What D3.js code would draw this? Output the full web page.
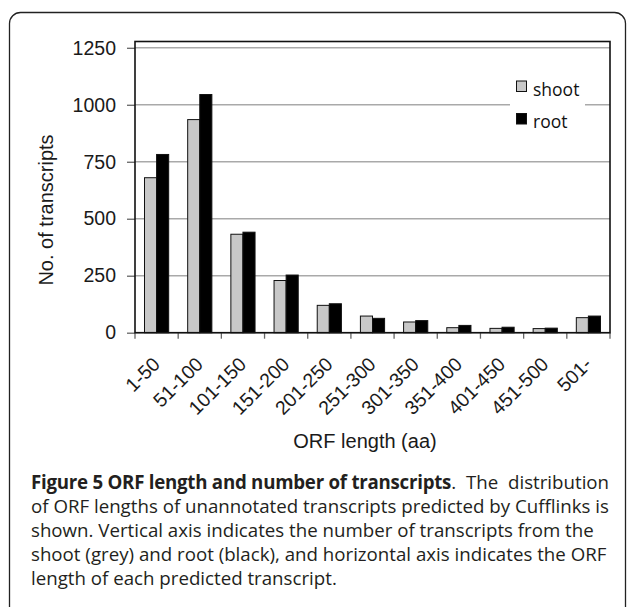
<!DOCTYPE html>
<html>
<head>
<meta charset="utf-8">
<script src="https://cdn.jsdelivr.net/npm/d3@7"></script>
<style>
  body { margin: 0; background: #fff; }
  svg { display: block; }
</style>
</head>
<body>
<div class="main-container"></div>
<script>
const categories = ["1-50", "51-100", "101-150", "151-200", "201-250", "251-300",
  "301-350", "351-400", "401-450", "451-500", "501-"];
const shoot = [680, 935, 432, 229, 120, 73, 47, 22, 19, 18, 66];
const root = [782, 1045, 441, 253, 127, 63, 53, 32, 24, 20, 73];
const yTicks = [0, 250, 500, 750, 1000, 1250];
const seriesNames = ["shoot", "root"];
const seriesColors = {shoot: "#c8c8c8", root: "#000"};

const captionLines = [
  [{t: "Figure 5 ORF length and number of transcripts", b: true}, {t: ". The distribution"}],
  [{t: "of ORF lengths of unannotated transcripts predicted by Cufflinks is"}],
  [{t: "shown. Vertical axis indicates the number of transcripts from the"}],
  [{t: "shoot (grey) and root (black), and horizontal axis indicates the ORF"}],
  [{t: "length of each predicted transcript."}]
];

const W = 627, H = 607;
const plot = {left: 135, right: 610, top: 41.5, bottom: 332.7};

const svg = d3.select(".main-container")
  .append("svg")
  .attr("width", W)
  .attr("height", H);

// outer rounded frame of the figure
svg.append("rect")
  .attr("x", 9.5).attr("y", 12.5)
  .attr("width", 616).attr("height", 700)
  .attr("rx", 11)
  .attr("fill", "#fff")
  .attr("stroke", "#222")
  .attr("stroke-width", 1.3);

const data = categories.map((c, i) => ({cat: c, shoot: shoot[i], root: root[i]}));

let x = d3.scaleBand()
  .domain(categories)
  .range([plot.left, plot.right])
  .paddingInner(0.44)
  .paddingOuter(0.22);

let xs = d3.scaleBand()
  .domain(seriesNames)
  .range([0, x.bandwidth()]);

let y = d3.scaleLinear()
  .domain([0, 1250])
  .range([plot.bottom, 47.8]);

// gridlines
svg.append("g")
  .selectAll("line")
  .data(yTicks)
  .join("line")
  .attr("x1", plot.left).attr("x2", plot.right)
  .attr("y1", d => y(d)).attr("y2", d => y(d))
  .attr("stroke", "#a9a9a9")
  .attr("stroke-width", 1.5);

// y axis ticks + labels
const yAxis = svg.append("g")
  .attr("transform", "translate(" + plot.left + ",0)")
  .call(d3.axisLeft(y).tickValues(yTicks).tickFormat(d3.format("d")).tickSize(8).tickPadding(11));
yAxis.select(".domain").remove();
yAxis.selectAll(".tick line").attr("stroke", "#666").attr("stroke-width", 1.3);
yAxis.selectAll("text")
  .attr("font-family", "Liberation Sans, Arial, sans-serif")
  .attr("font-size", 19.5)
  .attr("fill", "#1a1a1a");

// x ticks at category boundaries
const step = x.step();
svg.append("g")
  .selectAll("line")
  .data(d3.range(categories.length + 1))
  .join("line")
  .attr("x1", i => plot.left + i * step)
  .attr("x2", i => plot.left + i * step)
  .attr("y1", plot.bottom).attr("y2", plot.bottom + 6)
  .attr("stroke", "#666")
  .attr("stroke-width", 1.3);

// x labels, rotated
svg.append("g")
  .selectAll("text")
  .data(categories)
  .join("text")
  .attr("transform", d => "translate(" + (x(d) + x.bandwidth() / 2 + 4.5) + "," + 365.5 + ")rotate(-45)")
  .attr("text-anchor", "end")
  .attr("font-family", "Liberation Sans, Arial, sans-serif")
  .attr("font-size", 19.5)
  .attr("fill", "#1a1a1a")
  .text(d => d);

// bars
svg.append("g")
  .selectAll("g")
  .data(data)
  .join("g")
  .attr("transform", d => "translate(" + x(d.cat) + ",0)")
  .selectAll("rect")
  .data(d => seriesNames.map(k => ({key: k, value: d[k]})))
  .join("rect")
  .attr("x", d => xs(d.key))
  .attr("y", d => y(d.value))
  .attr("width", xs.bandwidth())
  .attr("height", d => plot.bottom - y(d.value))
  .attr("fill", d => seriesColors[d.key])
  .attr("stroke", "#111")
  .attr("stroke-width", 1);

// plot frame
svg.append("rect")
  .attr("x", plot.left).attr("y", plot.top)
  .attr("width", plot.right - plot.left)
  .attr("height", plot.bottom - plot.top)
  .attr("fill", "none")
  .attr("stroke", "#111")
  .attr("stroke-width", 1.6);

// legend
const legend = svg.append("g");
legend.append("rect")
  .attr("x", 510).attr("y", 72)
  .attr("width", 75).attr("height", 64)
  .attr("fill", "#fff");
seriesNames.forEach((k, i) => {
  legend.append("rect")
    .attr("x", 516.5).attr("y", 81 + i * 32.5)
    .attr("width", 10).attr("height", 10.5)
    .attr("fill", seriesColors[k])
    .attr("stroke", "#111")
    .attr("stroke-width", 1);
  legend.append("text")
    .attr("x", 533).attr("y", 95.5 + i * 32.5)
    .attr("font-family", "Open Sans, sans-serif")
    .attr("font-size", 17.5)
    .attr("fill", "#111")
    .text(k);
});

// axis titles
svg.append("text")
  .attr("transform", "translate(53,210)rotate(-90)")
  .attr("text-anchor", "middle")
  .attr("font-family", "Liberation Sans, Arial, sans-serif")
  .attr("font-size", 20)
  .attr("fill", "#1a1a1a")
  .text("No. of transcripts");

svg.append("text")
  .attr("x", 365).attr("y", 448)
  .attr("text-anchor", "middle")
  .attr("font-family", "Liberation Sans, Arial, sans-serif")
  .attr("font-size", 20)
  .attr("fill", "#1a1a1a")
  .text("ORF length (aa)");

// caption
const cap = svg.append("g")
  .attr("font-family", "Open Sans, sans-serif")
  .attr("font-size", 18.7)
  .attr("fill", "#231f20");
captionLines.forEach((parts, i) => {
  const t = cap.append("text")
    .attr("x", 31)
    .attr("y", 488.5 + i * 24.1);
  parts.forEach(p => {
    const s = t.append("tspan")
      .attr("font-weight", p.b ? 700 : 400)
      .text(p.t);
    if (p.b) s.attr("letter-spacing", -0.25);
    else if (i === 0) s.attr("word-spacing", 5);
  });
});
</script>
</body>
</html>
